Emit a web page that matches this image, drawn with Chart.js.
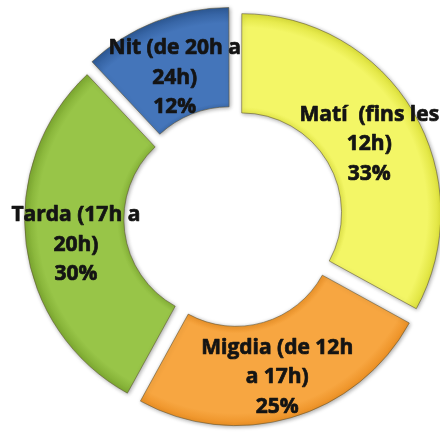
<!DOCTYPE html>
<html>
<head>
<meta charset="utf-8">
<script src="https://cdn.jsdelivr.net/npm/chart.js@4/dist/chart.umd.min.js"></script>
<style>
  html, body { margin: 0; padding: 0; background: #ffffff; overflow: hidden; }
  #wrap { position: relative; width: 440px; height: 432px; }
</style>
</head>
<body>
<div id="wrap"><canvas id="grFranja"></canvas></div>
<script>
// franges horàries (cada etiqueta ja partida en línies)
var franges = [
	['Matí  (fins les', '12h)'],
	['Migdia (de 12h', 'a 17h)'],
	['Tarda (17h a', '20h)'],
	['Nit (de 20h a', '24h)']
];
var percentatges = [33, 25, 30, 12];

// colors: vora fosca, centre clar
var colorsVora = ['#dade34', '#e98a1c', '#78a42c', '#2d5996'];
var colorsCentre = ['#f3f666', '#f7a641', '#98c548', '#4475ba'];

var RADI = 198;
var FORAT = 93;

function omplir(context) {
	var chart = context.chart;
	var area = chart.chartArea;
	if (!area) {
		return colorsCentre[context.dataIndex];
	}
	var cx = (area.left + area.right) / 2;
	var cy = (area.top + area.bottom) / 2;
	var g = chart.ctx.createRadialGradient(cx, cy, FORAT, cx, cy, RADI + 4);
	var i = context.dataIndex;
	g.addColorStop(0, colorsVora[i]);
	g.addColorStop(0.12, colorsCentre[i]);
	g.addColorStop(0.85, colorsCentre[i]);
	g.addColorStop(1, colorsVora[i]);
	return g;
}

// ombra suau sota les porcions
var ombra = {
	id: 'ombra',
	beforeDatasetDraw: function(chart) {
		var ctx = chart.ctx;
		ctx.save();
		ctx.shadowColor = 'rgba(0,0,0,0.35)';
		ctx.shadowBlur = 4;
		ctx.shadowOffsetX = 1;
		ctx.shadowOffsetY = 1;
	},
	afterDatasetDraw: function(chart) {
		chart.ctx.restore();
	}
};

// etiquetes dins de cada porció: nom + percentatge
var etiquetes = {
	id: 'etiquetes',
	afterDatasetsDraw: function(chart) {
		var ctx = chart.ctx;
		var meta = chart.getDatasetMeta(0);
		ctx.save();
		ctx.font = 'bold 21px "Open Sans"';
		ctx.fillStyle = '#141414';
		ctx.strokeStyle = '#141414';
		ctx.lineWidth = 0.7;
		ctx.lineJoin = 'round';
		ctx.textAlign = 'center';
		ctx.textBaseline = 'middle';
		meta.data.forEach(function(arc, i) {
			var p = arc.getProps(['x', 'y', 'startAngle', 'endAngle', 'innerRadius', 'outerRadius']);
			var mig = (p.startAngle + p.endAngle) / 2;
			var r = (p.innerRadius + p.outerRadius) / 2 + arc.options.offset / 4;
			var x = p.x + Math.cos(mig) * r;
			var y = p.y + Math.sin(mig) * r + 7;
			var linies = franges[i].concat([percentatges[i] + '%']);
			var alt = 29.5;
			var y0 = y - alt * (linies.length - 1) / 2;
			linies.forEach(function(t, k) {
				ctx.fillText(t, x, y0 + k * alt);
				ctx.strokeText(t, x, y0 + k * alt);
			});
		});
		ctx.restore();
	}
};

var config = {
	type: 'doughnut',
	data: {
		labels: franges,
		datasets: [{
			data: percentatges,
			backgroundColor: omplir,
			borderColor: 'rgba(90,80,50,0.55)',
			borderWidth: 1,
			offset: 40,
			clip: false
		}]
	},
	options: {
		responsive: true,
		maintainAspectRatio: false,
		animation: false,
		radius: RADI,
		cutout: FORAT,
		rotation: 0,
		layout: { padding: { left: 26, top: 4 } },
		plugins: {
			legend: { display: false },
			tooltip: { enabled: false }
		}
	},
	plugins: [ombra, etiquetes]
};

var ctx = document.getElementById('grFranja').getContext('2d');
window.grafic = new Chart(ctx, config);
</script>
</body>
</html>
